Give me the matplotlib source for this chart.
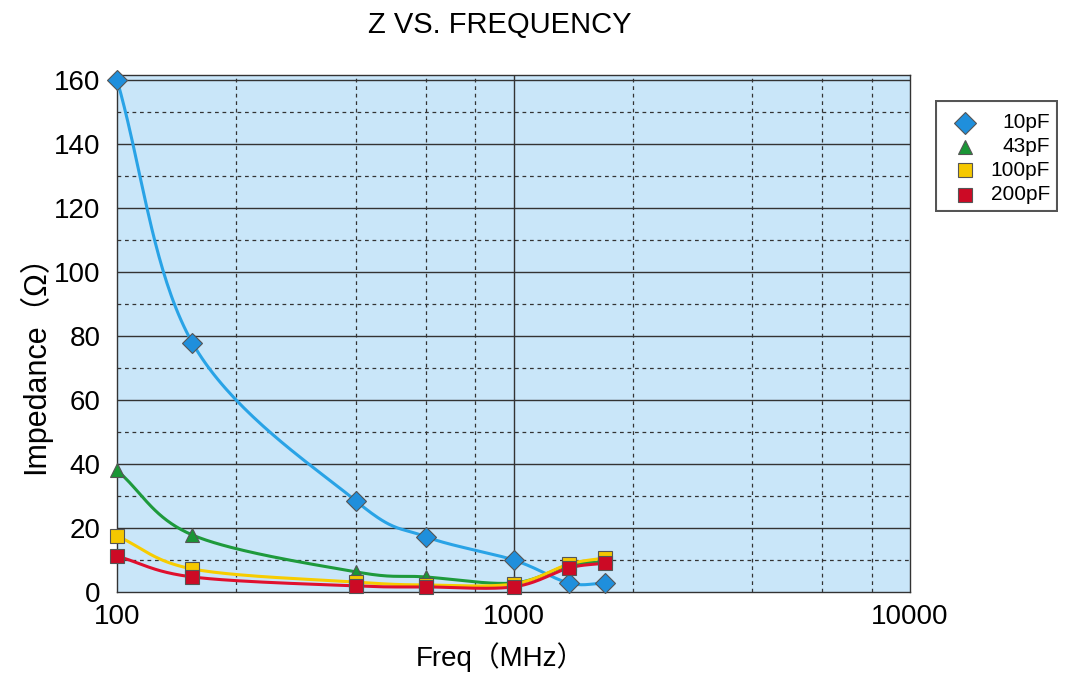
import numpy as np
import matplotlib
matplotlib.use("Agg")
import matplotlib.pyplot as plt
from matplotlib.ticker import FixedLocator, NullFormatter
from matplotlib.patches import Rectangle

plt.rcParams['font.family'] = ['Liberation Sans', 'Noto Sans CJK JP', 'DejaVu Sans']

freq = [100, 155, 400, 600, 1000, 1380, 1700]
z_10pF = [160, 77.8, 28.5, 17.3, 10.0, 2.8, 2.8]
z_43pF = [38, 17.8, 6.3, 4.7, 2.8, 8.4, 9.4]
z_100pF = [17.5, 7.2, 3.1, 2.2, 2.5, 8.7, 10.6]
z_200pF = [11.2, 4.7, 1.9, 1.6, 1.6, 7.5, 9.0]
labels = ['10pF', '43pF', '100pF', '200pF']

series = [z_10pF, z_43pF, z_100pF, z_200pF]
line_colors = ['#29a3e6', '#1e9a3c', '#f7cc00', '#e0102e']
marker_colors = ['#1f8fdc', '#1a9636', '#f5c800', '#cc0a25']
markers = ['D', '^', 's', 's']
msizes = [10, 10, 10, 10]


def catmull_rom(x, y, n=40):
    x = np.asarray(x, float); y = np.asarray(y, float)
    px = np.concatenate([[2 * x[0] - x[1]], x, [2 * x[-1] - x[-2]]])
    py = np.concatenate([[2 * y[0] - y[1]], y, [2 * y[-1] - y[-2]]])
    xs, ys = [], []
    for i in range(1, len(px) - 2):
        t = np.linspace(0, 1, n)[:, None]
        p0, p1, p2, p3 = [np.array([px[j], py[j]]) for j in range(i - 1, i + 3)]
        pts = 0.5 * ((2 * p1) + (-p0 + p2) * t + (2 * p0 - 5 * p1 + 4 * p2 - p3) * t ** 2
                     + (-p0 + 3 * p1 - 3 * p2 + p3) * t ** 3)
        xs.append(pts[:, 0]); ys.append(pts[:, 1])
    return np.concatenate(xs), np.concatenate(ys)


W, H = 1067, 673
fig = plt.figure(figsize=(W / 100, H / 100), dpi=100)
ax = fig.add_axes([117 / W, 1 - 592 / H, (910 - 117) / W, (592 - 75) / H])
ax.set_facecolor('#c9e6f9')
ax.set_xscale('log')
ax.set_xlim(100, 10000)
ax.set_ylim(0, 161.5)

# grid
for yv in range(20, 161, 20):
    ax.axhline(yv, color='#333333', lw=1.0, zorder=1)
for yv in range(10, 161, 20):
    ax.axhline(yv, color='#333333', lw=0.9, ls=(0, (3, 3)), zorder=1)
ax.axvline(1000, color='#333333', lw=1.0, zorder=1)
for xv in [200, 400, 600, 800, 2000, 4000, 6000, 8000]:
    ax.axvline(xv, color='#333333', lw=0.9, ls=(0, (3, 3)), zorder=1)

for vals, lc, mc, mk, ms in zip(series, line_colors, marker_colors, markers, msizes):
    lx, ly = catmull_rom(np.log10(freq), vals)
    ax.plot(10 ** lx, ly, color=lc, lw=2.2, zorder=3)
    ax.plot(freq, vals, ls='none', marker=mk, ms=ms, color=mc, mec='#555555', mew=0.8,
            zorder=4, clip_on=False)

ax.xaxis.set_major_locator(FixedLocator([100, 1000, 10000]))
ax.xaxis.set_minor_locator(FixedLocator([]))
ax.xaxis.set_minor_formatter(NullFormatter())
ax.set_xticklabels(['100', '1000', '10000'])
ax.set_yticks(range(0, 161, 20))
ax.tick_params(axis='both', length=0, labelsize=20)
ax.tick_params(axis='x', pad=9)
ax.tick_params(axis='y', pad=12)
for s in ax.spines.values():
    s.set_color('#333333'); s.set_linewidth(1.0)

fig.text(500 / W, 1 - 657 / H, 'Freq（MHz）', ha='center', va='center', fontsize=20)
fig.text(35 / W, 1 - 357 / H, 'Impedance（Ω）', ha='center', va='center', fontsize=22, rotation=90)
fig.text(500 / W, 1 - 25 / H, 'Z VS. FREQUENCY', ha='center', va='center', fontsize=21)

# legend drawn in its own axes
lax = fig.add_axes([935 / W, 1 - 212 / H, (1058 - 935) / W, (212 - 100) / H])
lax.set_xlim(935, 1058)
lax.set_ylim(212, 100)
lax.axis('off')
lax.add_patch(Rectangle((936, 101), 121, 110, fill=False, ec='#555555', lw=1.5))
rows = [123, 147, 170, 195]
for yy, mc, mk, lab in zip(rows, marker_colors, markers, labels):
    lax.plot([965], [yy], ls='none', marker=mk, ms=11 if mk == 'D' else 10, color=mc,
             mec='#555555', mew=0.8, clip_on=False)
    lax.text(1050, yy, lab, ha='right', va='center', fontsize=15)

fig.savefig('out.png', dpi=100)
